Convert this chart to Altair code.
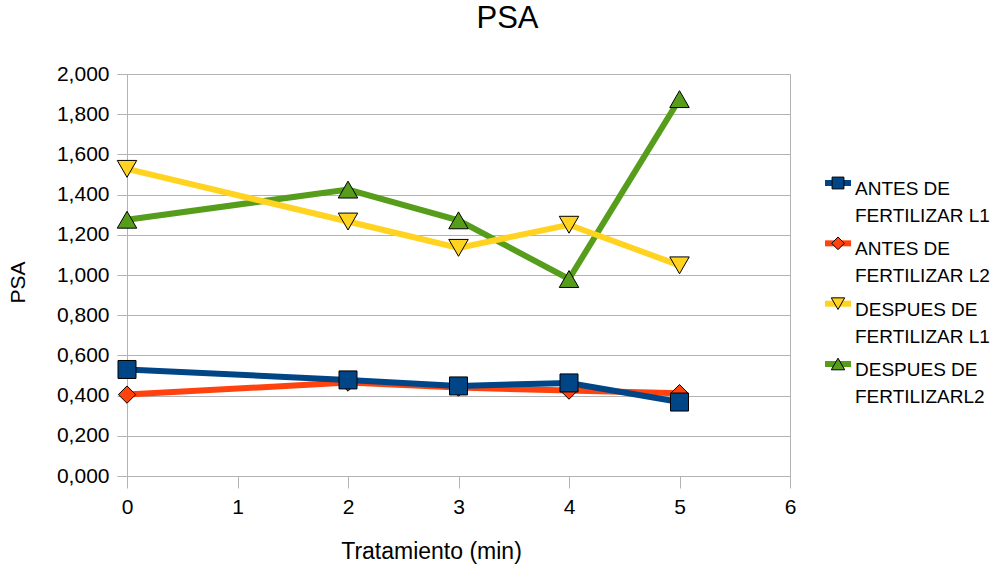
import altair as alt
import pandas as pd

# ---- data ----
x_vals = [0, 2, 3, 4, 5]
antes_l1 = [0.530, 0.478, 0.448, 0.463, 0.368]
antes_l2 = [0.405, 0.465, 0.440, 0.425, 0.412]
despues_l1 = [1.528, 1.266, 1.135, 1.250, 1.048]
despues_l2 = [1.275, 1.425, 1.272, 0.980, 1.875]

series_names = [
    "ANTES DE FERTILIZAR L1",
    "ANTES DE FERTILIZAR L2",
    "DESPUES DE FERTILIZAR L1",
    "DESPUES DE FERTILIZARL2",
]
legend_line1 = ["ANTES DE", "ANTES DE", "DESPUES DE", "DESPUES DE"]
legend_line2 = ["FERTILIZAR L1", "FERTILIZAR L2", "FERTILIZAR L1", "FERTILIZARL2"]

x_ticks = [0, 1, 2, 3, 4, 5, 6]
y_ticks = [0.0, 0.2, 0.4, 0.6, 0.8, 1.0, 1.2, 1.4, 1.6, 1.8, 2.0]

# ---- styles ----
colors = ["#004586", "#ff420e", "#ffd320", "#579d1c"]
shapes = ["square", "diamond", "triangle-down", "triangle-up"]
sizes = [324, 300, 380, 380]
legend_sizes = [140, 160, 180, 180]
FONT = "Liberation Sans"
GRID = "#b3b3b3"

all_vals = [antes_l1, antes_l2, despues_l1, despues_l2]
rows = []
for name, vals in zip(series_names, all_vals):
    for xv, yv in zip(x_vals, vals):
        rows.append({"x": xv, "psa": yv, "serie": name})
df = pd.DataFrame(rows)

leg_df = pd.DataFrame({
    "idx": list(range(len(series_names))),
    "line1": legend_line1,
    "line2": legend_line2,
    "color": colors,
    "shape": shapes,
    "lsize": legend_sizes,
})

x_enc = alt.X(
    "x:Q",
    title="Tratamiento (min)",
    scale=alt.Scale(domain=[0, 6], nice=False, zero=False),
    axis=alt.Axis(
        values=x_ticks, format="d", grid=False, tickSize=12, labelPadding=8,
        labelFontSize=21, titleFontSize=23, titleX=304, titleY=82,
        titleBaseline="alphabetic", labelFlush=False,
    ),
)
y_enc = alt.Y(
    "psa:Q",
    title="PSA",
    scale=alt.Scale(domain=[0, 2], nice=False),
    axis=alt.Axis(
        values=y_ticks, grid=True, tickSize=10, labelPadding=8,
        labelExpr="replace(format(datum.value, '.3f'), '.', ',')",
        labelFontSize=21, titleFontSize=21, titleX=-103, titleY=208,
        titleBaseline="alphabetic", titleAngle=270, labelFlush=False,
    ),
)

base = alt.Chart(df)
main_layers = []
for i in [3, 2, 1, 0]:
    name = series_names[i]
    sub = base.transform_filter(alt.datum.serie == name)
    main_layers.append(
        sub.mark_line(strokeWidth=6, color=colors[i]).encode(x=x_enc, y=y_enc)
    )
    main_layers.append(
        sub.mark_point(
            shape=shapes[i], filled=True, fill=colors[i], stroke="black",
            strokeWidth=1, size=sizes[i], opacity=1,
        ).encode(x=x_enc, y=y_enc)
    )
main = alt.layer(*main_layers)

y_leg = alt.Y(
    "idx:O", axis=None,
    scale=alt.Scale(type="point", domain=[0, 1, 2, 3], range=[109, 290], padding=0),
)
lbase = alt.Chart(leg_df)
leg_rule = lbase.mark_rule(strokeWidth=6).encode(
    x=alt.value(698), x2=alt.value(724), y=y_leg,
    color=alt.Color("color:N", scale=None),
)
leg_pts = lbase.mark_point(filled=True, stroke="black", strokeWidth=1, opacity=1).encode(
    x=alt.value(711), y=y_leg,
    fill=alt.Fill("color:N", scale=None),
    shape=alt.Shape("shape:N", scale=None),
    size=alt.Size("lsize:Q", scale=None),
)
leg_t1 = lbase.mark_text(
    align="left", baseline="alphabetic", dy=12, font=FONT, fontSize=19, color="black"
).encode(x=alt.value(728), y=y_leg, text="line1:N")
leg_t2 = lbase.mark_text(
    align="left", baseline="alphabetic", dy=39, font=FONT, fontSize=19, color="black"
).encode(x=alt.value(728), y=y_leg, text="line2:N")
legend = alt.layer(leg_rule, leg_pts, leg_t1, leg_t2)

chart = (
    alt.layer(main, legend)
    .resolve_scale(y="independent")
    .properties(
        width=663,
        height=402,
        autosize=alt.AutoSizeParams(type="none"),
        padding={"left": 127, "top": 74, "right": 210, "bottom": 89},
        title=alt.TitleParams(
            "PSA", font=FONT, fontSize=31, fontWeight="normal", color="black",
            anchor="middle", dx=49, offset=28,
        ),
        background="white",
    )
    .configure_view(stroke=GRID, strokeWidth=1)
    .configure_axis(
        labelFont=FONT, titleFont=FONT, labelColor="black", titleColor="black",
        titleFontWeight="normal", domainColor=GRID, tickColor=GRID, gridColor=GRID,
        gridWidth=1, domainWidth=1, tickWidth=1,
    )
)

chart.save("out.html", embed_options={"renderer": "svg", "actions": False})
